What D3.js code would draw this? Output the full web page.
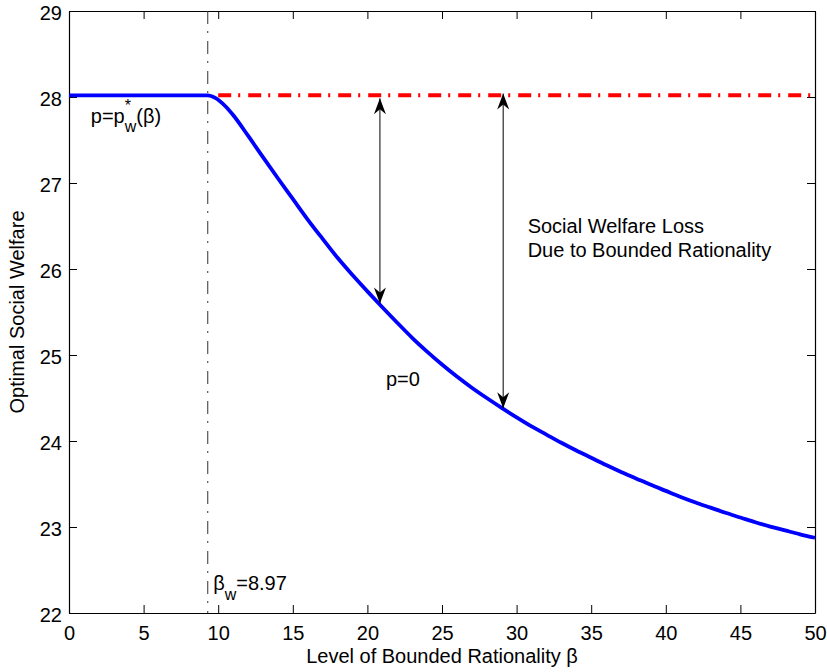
<!DOCTYPE html>
<html>
<head>
<meta charset="utf-8">
<script src="https://cdn.jsdelivr.net/npm/d3@7"></script>
<style>
  body { margin: 0; background: #fff; }
  text { font-family: "Liberation Sans", Arial, Helvetica, sans-serif; }
</style>
</head>
<body>
<div id="chart"></div>
<script>
// values
var betaValues = [0, 9.3, 9.8, 10.5, 11, 12, 13, 14, 15, 16, 17, 18, 19, 20, 21, 22, 23, 24, 25, 26, 27, 28, 29, 30,
    31, 32, 33, 34, 35, 36, 37, 38, 39, 40, 41, 42, 43, 44, 45, 46, 47, 48, 49, 50];
var welfareValues = [28.02, 28.02, 27.99, 27.89, 27.79, 27.55, 27.30, 27.055, 26.815, 26.575, 26.35, 26.13, 25.93, 25.74,
    25.555, 25.375, 25.20, 25.04, 24.89, 24.75, 24.62, 24.50, 24.385, 24.275, 24.17, 24.075, 23.98, 23.89, 23.805,
    23.72, 23.64, 23.565, 23.49, 23.42, 23.35, 23.285, 23.225, 23.165, 23.11, 23.055, 23.005, 22.96, 22.915, 22.875];
var optimalBeta = [10, 50];
var optimalWelfare = [28.02, 28.02];
var betaW = 9.3;
var arrowBeta = [20.84, 29.1];
var arrowTop = [27.985, 28.04];
var arrowBottom = [25.60, 24.38];
var xTicks = [0, 5, 10, 15, 20, 25, 30, 35, 40, 45, 50];
var yTicks = [22, 23, 24, 25, 26, 27, 28, 29];

var margin = {
        top: 11,
        right: 12,
        bottom: 59,
        left: 69
    },
    width = 827 - margin.left - margin.right,
    height = 672 - margin.top - margin.bottom;

var svg = d3.select("#chart")
    .append("svg")
    .attr("width", width + margin.left + margin.right)
    .attr("height", height + margin.top + margin.bottom)
    .style("background", "#fff")
    .append("g")
    .attr("transform", "translate(" + margin.left + "," + margin.top + ")");

var x = d3.scaleLinear().domain([0, 50]).range([0, width]);
var y = d3.scaleLinear().domain([22, 29]).range([height, 0]);

// axes, ticks pointing inside on all four sides
var xAxis = svg.append("g")
    .attr("transform", "translate(0," + height + ")")
    .call(d3.axisBottom(x).tickValues(xTicks).tickFormat(d3.format("d"))
        .tickSizeInner(-8).tickSizeOuter(0).tickPadding(13));
var yAxis = svg.append("g")
    .call(d3.axisLeft(y).tickValues(yTicks).tickFormat(d3.format("d"))
        .tickSizeInner(-8).tickSizeOuter(0).tickPadding(7));
svg.append("g")
    .call(d3.axisTop(x).tickValues(xTicks).tickSizeInner(-8).tickSizeOuter(0).tickFormat(""));
svg.append("g")
    .attr("transform", "translate(" + width + ",0)")
    .call(d3.axisRight(y).tickValues(yTicks).tickSizeInner(-8).tickSizeOuter(0).tickFormat(""));

svg.selectAll(".domain").attr("stroke", "#000").attr("stroke-width", 1.2);
svg.selectAll(".tick line").attr("stroke", "#000");
svg.selectAll(".tick text")
    .attr("fill", "#000")
    .style("font-size", "20px")
    .style("font-family", "'Liberation Sans', Arial, sans-serif");
yAxis.selectAll(".tick text").attr("dy", "0.42em");

// axis titles
svg.append("text")
    .attr("x", width / 2)
    .attr("y", 652)
    .attr("text-anchor", "middle")
    .style("font-size", "20px")
    .text("Level of Bounded Rationality β");
svg.append("text")
    .attr("transform", "rotate(-90)")
    .attr("x", -height / 2)
    .attr("y", -44.7)
    .attr("text-anchor", "middle")
    .style("font-size", "20px")
    .text("Optimal Social Welfare");

// vertical dash-dot line at beta_w
svg.append("line")
    .attr("x1", x(betaW)).attr("x2", x(betaW))
    .attr("y1", 0).attr("y2", height)
    .attr("stroke", "#333")
    .attr("stroke-width", 1)
    .attr("stroke-dasharray", "13,7,2,8");

// red dash-dot optimal line
var optimalData = optimalBeta.map(function (d, i) { return [d, optimalWelfare[i]]; });
svg.append("path")
    .datum(optimalData)
    .attr("fill", "none")
    .attr("stroke", "#ff0000")
    .attr("stroke-width", 4)
    .attr("stroke-dasharray", "13,7,2,8")
    .attr("d", d3.line().x(function (d) { return x(d[0]); }).y(function (d) { return y(d[1]); }));

// blue welfare curve
var curveData = betaValues.map(function (d, i) { return [d, welfareValues[i]]; });
svg.append("path")
    .datum(curveData)
    .attr("fill", "none")
    .attr("stroke", "#0000ff")
    .attr("stroke-width", 3.8)
    .attr("stroke-linejoin", "round")
    .attr("d", d3.line()
        .curve(d3.curveMonotoneX)
        .x(function (d) { return x(d[0]); })
        .y(function (d) { return y(d[1]); }));

// double-headed arrows
var defs = svg.append("defs");
defs.append("marker")
    .attr("id", "head")
    .attr("viewBox", "-16 -7 17 14")
    .attr("refX", 0)
    .attr("refY", 0)
    .attr("markerUnits", "userSpaceOnUse")
    .attr("markerWidth", 17)
    .attr("markerHeight", 14)
    .attr("orient", "auto-start-reverse")
    .append("path")
    .attr("d", "M0,0 L-16,-6 L-11,0 L-16,6 Z")
    .attr("fill", "#000");

svg.selectAll(".arrow")
    .data(arrowBeta)
    .enter()
    .append("line")
    .attr("class", "arrow")
    .attr("x1", function (d) { return x(d); })
    .attr("x2", function (d) { return x(d); })
    .attr("y1", function (d, i) { return y(arrowTop[i]); })
    .attr("y2", function (d, i) { return y(arrowBottom[i]); })
    .attr("stroke", "#000")
    .attr("stroke-width", 1)
    .attr("marker-start", "url(#head)")
    .attr("marker-end", "url(#head)");

// annotations
var t1 = svg.append("text")
    .attr("x", x(1.46))
    .attr("y", y(27.70))
    .style("font-size", "20px");
t1.append("tspan").text("p=p");
t1.append("tspan").attr("dy", -11.5).style("font-size", "16px").text("*");
t1.append("tspan").attr("dx", -6.2).attr("dy", 20.5).style("font-size", "16px").text("w");
t1.append("tspan").attr("dy", -9).text("(β)");

svg.append("text")
    .attr("x", x(21.24))
    .attr("y", y(24.64))
    .style("font-size", "20px")
    .text("p=0");

var t3 = svg.append("text")
    .attr("x", x(30.74))
    .attr("y", y(26.415))
    .style("font-size", "20px");
t3.append("tspan").text("Social Welfare Loss");
t3.append("tspan").attr("x", x(30.74)).attr("dy", 23.4).text("Due to Bounded Rationality");

var t4 = svg.append("text")
    .attr("x", x(9.66))
    .attr("y", y(22.267))
    .style("font-size", "20px");
t4.append("tspan").text("β");
t4.append("tspan").attr("dy", 10).style("font-size", "16px").text("w");
t4.append("tspan").attr("dy", -10).text("=8.97");
</script>
</body>
</html>
